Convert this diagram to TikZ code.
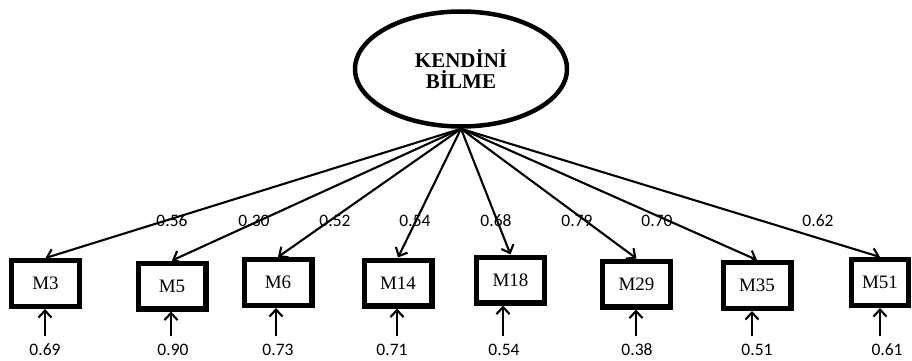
\documentclass[tikz,border=0pt]{standalone}
\usepackage{fontspec}
\setmainfont{Liberation Serif}
\newfontfamily\numfont{Carlito}
\usetikzlibrary{shapes.geometric,arrows.meta}
\tikzset{
  latent/.style={ellipse, draw, line width=4.5pt, minimum width=212pt, minimum height=115pt,
    inner sep=0pt, align=center, font=\fontsize{21}{21.7}\selectfont\bfseries},
  item/.style={rectangle, draw, line width=5.3pt, minimum width=67.7pt, minimum height=45.7pt,
    inner sep=0pt, font=\fontsize{19}{20}\selectfont},
  load/.style={line width=2.1pt, -{Straight Barb[length=7pt,width=13pt,line width=2.1pt]}},
  err/.style={line width=2.1pt, -{Straight Barb[length=7pt,width=13pt,line width=2.1pt]}},
  coef/.style={inner sep=0pt, font=\numfont\fontsize{17.5}{18}\selectfont}
}
\begin{document}
\begin{tikzpicture}[x=1pt,y=-1pt]
\useasboundingbox (0,0) rectangle (912,361);
% latent factor
\node[latent] (K) at (461,69) {KENDİNİ\\BİLME};
% observed items
\node[item] (M3)  at (45.5,283.5) {M3};
\node[item] (M5)  at (172,286)    {M5};
\node[item] (M6)  at (278,282.5)  {M6};
\node[item] (M14) at (398,283)    {M14};
\node[item] (M18) at (510.5,280)  {M18};
\node[item] (M29) at (636.5,284)  {M29};
\node[item] (M35) at (757,285.5)  {M35};
\node[item, minimum width=57pt] (M51) at (880,282.5) {M51};
% factor loadings
\foreach \m in {M3,M5,M6,M14,M18,M29,M35,M51}
  \draw[load] (K.south) -- (\m.north);
\node[coef] (l3)  at (172,221) {0.56};
\node[coef] (l5)  at (254,221) {0.30};
\node[coef] (l6)  at (335,221) {0.52};
\node[coef] (l14) at (415,221) {0.54};
\node[coef] (l18) at (496,221) {0.68};
\node[coef] (l29) at (577,221) {0.79};
\node[coef] (l35) at (657,221) {0.70};
\node[coef] (l51) at (818,221) {0.62};
% error terms
\foreach \m/\x/\v/\lx in {M3/45/0.69/45, M5/171/0.90/173, M6/276/0.73/278, M14/397/0.71/392,
                          M18/503/0.54/504, M29/636/0.38/637, M35/752/0.51/757, M51/880/0.61/887}{
  \coordinate (e\m) at (\x,336);
  \draw[err] (e\m) -- (e\m |- \m.south);
  \node[coef] (v\m) at (\lx,350) {\v};
}
\end{tikzpicture}
\end{document}
